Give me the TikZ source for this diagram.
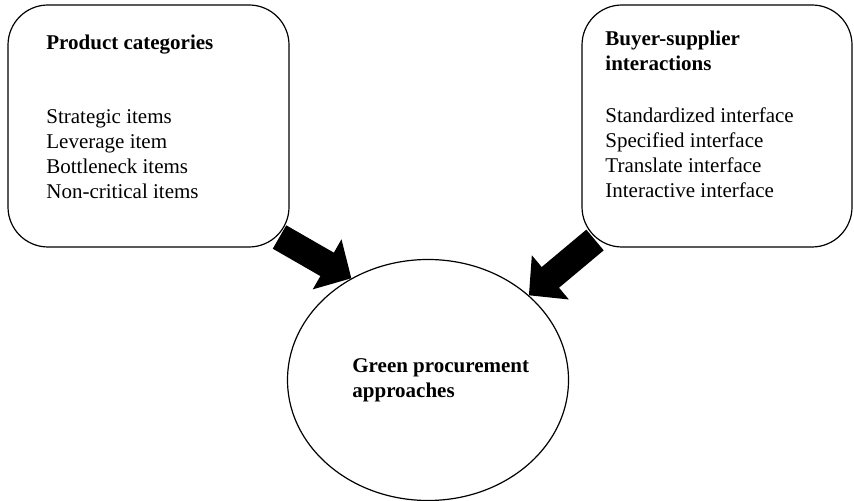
\documentclass[tikz,border=0pt]{standalone}
\usepackage{fontspec}
\setmainfont{Liberation Serif}
\usetikzlibrary{shapes.geometric}
\usetikzlibrary{arrows.meta}

\begin{document}
\begin{tikzpicture}[x=0.5pt,y=-0.5pt,
  box/.style={draw,line width=0.6pt,rounded corners=20pt,inner sep=0pt},
  txt/.style={anchor=base west,inner sep=0pt,font=\fontsize{10.5}{12.5}\selectfont},
  head/.style={txt,font=\fontsize{10.5}{12.5}\selectfont\bfseries},
  fat/.style={line width=13.5pt,-{Triangle[length=14pt,width=28pt]}}]
\useasboundingbox (0,0) rectangle (854,501);
\node[box,minimum width=140.5pt,minimum height=121pt] (cat) at (148.5,126) {};
\node[box,minimum width=135pt,minimum height=121pt] (inter) at (717,126) {};
\node[draw,ellipse,line width=0.6pt,minimum width=140.5pt,minimum height=120.5pt,inner sep=0pt] (green) at (428,380) {};
% left box
\node[head] (cattitle) at (46,50) {Product categories};
\foreach \t [count=\i] in {Strategic items,Leverage item,Bottleneck items,Non-critical items}
  \node[txt] (cat\i) at (46,99+25*\i) {\t};
% right box
\node[head] (intertitle) at (605,46) {Buyer-supplier};
\node[head] (intertitleb) at (605,71) {interactions};
\foreach \t [count=\i] in {Standardized interface,Specified interface,Translate interface,Interactive interface}
  \node[txt] (inter\i) at (605,98+25*\i) {\t};
% centre
\node[head] (green1) at (352,372) {Green procurement};
\node[head] (green2) at (352,397) {approaches};
\coordinate(lt) at (279.5,237);
\coordinate(rt) at (595,240);
\draw[fat] (lt) -- (green.127);
\draw[fat] (rt) -- (green.40);
\end{tikzpicture}
\end{document}
